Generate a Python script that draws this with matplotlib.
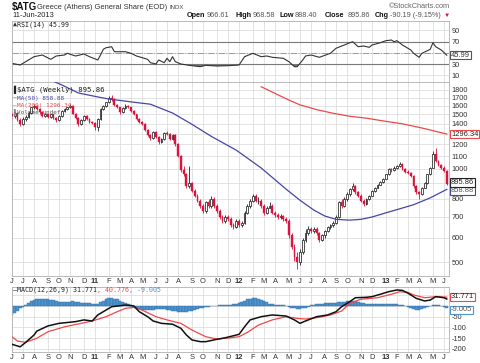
import numpy as np
import pandas as pd
import matplotlib
matplotlib.use('Agg')
import matplotlib.pyplot as plt
import matplotlib.dates as mdates
from matplotlib.ticker import FixedLocator, FixedFormatter, NullLocator

# ---------------- data (weekly, starting week of 7-Jun-2010) ----------------
opens = [1500,1480,1520,1440,1400,1450,1470,1520,1580,1600,1560,1530,1480,1500,1470,1500,1460,1440,1480,1540,
         1560,1580,1600,1510,1460,1400,1440,1480,1450,1420,1410,1370,1450,1560,1600,1640,1700,1680,1610,1580,
         1530,1570,1600,1580,1540,1500,1450,1420,1400,1340,1290,1260,1320,1270,1220,1250,1310,1300,1250,1290,
         1200,1100,990,960,880,900,850,820,790,760,730,780,760,800,760,730,700,680,700,690,
         660,650,680,660,670,720,760,790,820,790,790,760,720,750,760,720,710,700,705,690,
         680,610,560,520,500,540,590,620,640,630,640,620,590,610,630,650,660,670,700,780,
         760,800,830,860,880,840,820,790,770,800,820,850,870,890,910,930,960,1000,990,1010,
         1020,1040,1000,980,970,950,880,840,830,870,900,960,1010,1120,1060,1030,1010,986.05]
highs = [1530,1540,1530,1460,1470,1490,1540,1590,1620,1610,1570,1540,1520,1510,1510,1510,1470,1490,1550,1570,
         1590,1620,1610,1520,1470,1450,1490,1490,1460,1430,1420,1460,1570,1610,1650,1720,1730,1690,1620,1590,
         1580,1620,1610,1590,1550,1510,1460,1430,1410,1350,1300,1330,1330,1280,1260,1320,1330,1310,1300,1300,
         1210,1110,1020,970,1020,910,860,830,800,770,790,800,820,810,770,740,710,710,710,700,
         670,690,690,680,730,770,800,830,830,810,800,770,760,780,770,730,720,715,710,700,
         690,620,570,540,550,600,640,655,650,650,650,625,615,635,655,665,680,710,790,800,
         810,840,870,900,890,850,830,800,805,825,855,875,895,915,935,965,1010,1010,1020,1030,
         1050,1045,1010,990,980,955,890,850,875,905,965,1015,1140,1165,1070,1040,1020,990]
lows = [1450,1460,1430,1380,1390,1430,1460,1510,1560,1550,1510,1470,1470,1460,1460,1450,1420,1430,1470,1530,
        1550,1570,1500,1450,1380,1390,1430,1440,1410,1400,1340,1330,1440,1550,1580,1630,1660,1600,1570,1510,
        1520,1560,1570,1530,1490,1440,1410,1390,1330,1280,1240,1250,1260,1200,1210,1240,1290,1240,1240,1190,
        1090,980,950,870,870,840,810,780,750,720,720,750,750,750,720,690,670,670,680,650,
        640,645,650,650,665,715,750,780,780,770,750,710,715,745,715,700,690,690,680,670,
        600,550,505,476,490,530,580,610,620,620,610,580,585,600,625,640,650,665,695,750,
        755,790,820,850,830,810,780,760,765,795,815,845,865,885,900,925,955,980,985,1000,
        1015,990,970,960,940,870,830,800,825,865,895,955,1005,1050,1020,1000,975,888.40]
closes = [1480,1520,1440,1400,1450,1470,1520,1580,1600,1560,1530,1480,1500,1470,1500,1460,1440,1480,1540,1560,
          1580,1600,1510,1460,1400,1440,1480,1450,1420,1410,1370,1450,1560,1600,1640,1700,1680,1610,1580,1530,
          1570,1600,1580,1540,1500,1450,1420,1400,1340,1290,1260,1320,1270,1220,1250,1310,1300,1250,1290,1200,
          1100,990,960,880,900,850,820,790,760,730,780,760,800,760,730,700,680,700,690,660,
          650,680,660,670,720,760,790,820,790,790,760,720,750,760,720,710,700,705,690,680,
          610,560,520,500,540,590,620,640,630,640,620,590,610,630,650,660,670,700,780,760,
          800,830,860,880,840,820,790,770,800,820,850,870,890,910,930,960,1000,990,1010,1020,
          1040,1000,980,970,950,880,840,830,870,900,960,1010,1120,1060,1030,1010,986.05,895.86]

ma50_weeks = [8, 12, 15, 18, 24, 31, 35, 44, 50, 58, 65, 72, 81, 90, 99, 104, 109, 113, 117, 122, 126, 130,
              135, 140, 145, 151, 157]
ma50_vals = [2050, 1980, 1920, 1869, 1760, 1709, 1683, 1643, 1619, 1516, 1394, 1274, 1150, 1007, 860, 792, 736,
             704, 687, 683, 687, 699, 721, 743, 766, 806, 858.88]
ma200_weeks = [90, 93, 97, 100, 104, 110, 116, 122, 128, 135, 141, 149, 157]
ma200_vals = [1844, 1790, 1720, 1670, 1611, 1555, 1513, 1480, 1459, 1425, 1399, 1350, 1296.34]

rsi_weeks = [0, 3, 8, 11, 14, 16, 19, 20, 23, 26, 28, 31, 32, 33, 34, 36, 37, 41, 43, 45, 49, 50, 52, 53, 55, 56,
             57, 58, 59, 61, 64, 68, 70, 74, 78, 82, 84, 87, 90, 92, 94, 98, 100, 102, 103, 105, 106, 108, 111,
             115, 117, 120, 122, 123, 125, 127, 129, 130, 133, 135, 137, 138, 139, 141, 144, 145, 147, 148, 150,
             151, 152, 153, 155, 157]
rsi_vals = [31.6, 28.6, 43.4, 46.4, 38.7, 44.6, 46.4, 49.4, 44.6, 48.2, 43.4, 37.5, 46.4, 56.5, 59.3, 61.1, 52.2,
            52.2, 49.4, 44.6, 38.7, 32.7, 30.4, 37.5, 32.7, 40.5, 34.5, 43.4, 34.5, 30.4, 28, 25.6, 28, 26.8,
            27.4, 28.6, 43.4, 49.4, 43.4, 44.6, 42.3, 40.5, 34.5, 25.6, 25.6, 37.5, 44.6, 46.4, 42.3, 49.4, 58.3,
            64.1, 68.2, 70, 61.1, 62.4, 60, 64.1, 68.2, 71.8, 73, 70, 71.8, 64.1, 55.3, 49.4, 42.3, 49.4, 54,
            56.5, 68.2, 61.1, 55.3, 45.99]

macd_weeks = [0,3,5,8,9,13,17,23,26,29,31,34,36,41,44,46,49,51,54,58,61,63,65,68,70,74,77,82,84,86,90,94,99,102,
              104,106,110,114,117,119,122,124,128,130,133,136,139,141,143,146,149,151,153,156,157]
macd_vals = [-178,-190,-169,-135,-117,-93,-81,-73,-65,-70,-42,-19,-4,4,0,-27,-50,-70,-81,-85,-104,-135,-158,-166,
             -166,-155,-148,-132,-97,-65,-50,-42,-47,-65,-81,-70,-50,-42,-27,-4,20,38,40,43,54,66,74,72,59,35,23,
             27,43,38,31.771]
signal_weeks = [0,2,5,9,13,19,25,29,34,38,41,44,47,52,56,61,65,70,74,79,82,85,89,94,99,103,106,111,115,119,122,
                126,132,137,140,143,145,149,153,157]
signal_vals = [-143,-163,-169,-150,-120,-97,-81,-70,-50,-27,-11,-7,-19,-50,-65,-81,-112,-143,-154,-148,-143,-123,
               -89,-65,-50,-58,-61,-53,-42,-24,12,31,38,54,66,63,51,38,43,40.776]
hist_vals = [-40,-32,-22,-12,-4,
             5,14,22,28,32,33,33,32,30,28,26,
             22,20,20,19,18,20,22,20,17,15,14,13,12,10,
             8,10,
             16,24,30,35,37,34,30,25,20,15,
             10,4,
             -5,-10,-15,-18,-20,-21,-20,-18,-16,-15,-15,-16,-18,-20,-22,-24,-26,-28,-28,-27,-25,-22,-18,-14,-10,-8,-5,-3,-2,-1,
             0,2,3,4,5,6,8,10,12,
             18,24,30,34,37,36,33,28,22,16,10,
             7,5,4,3,2,1,
             -4,-8,-12,-15,-15,-12,-8,
             -3,2,5,8,10,11,12,12,13,14,15,16,
             18,20,23,24,23,21,18,15,
             12,10,9,8,8,9,9,10,9,9,8,8,7,5,3,
             -2,-6,-10,-14,-17,-18,-16,-12,-7,-2,
             3,6,4,
             -2,-6,-9.005]

price_ticks = [500, 600, 700, 800, 900, 1000, 1100, 1200, 1300, 1400, 1500, 1600, 1700, 1800]
price_labels = ['500', '600', '700', '800', '', '1000', '1100', '1200', '', '1400', '1500', '1600', '1700', '1800']
rsi_ticks = [10, 30, 50, 70, 90]
rsi_labels = ['10', '30', '', '70', '90']
macd_ticks = [-200, -150, -100, -50, 0, 50]
macd_labels = ['-200', '-150', '-100', '-50', '', '']

# ---------------- figure ----------------
W, H = 480, 363
plt.rcParams['font.family'] = ['Liberation Sans', 'DejaVu Sans']
fig = plt.figure(figsize=(W / 100, H / 100), dpi=100)
fig.patch.set_facecolor('white')


def rect(x0, y0, x1, y1):
    return [x0 / W, 1 - y1 / H, (x1 - x0) / W, (y1 - y0) / H]


X0, X1 = 11.5, 449
ax_r = fig.add_axes(rect(X0, 21, X1, 82))
ax_p = fig.add_axes(rect(X0, 82, X1, 276))
ax_m = fig.add_axes(rect(X0, 287, X1, 352))

dates = pd.date_range('2010-06-07', periods=len(closes), freq='7D')
xd = mdates.date2num(dates)
xlim = (mdates.date2num(pd.Timestamp('2010-06-06')), mdates.date2num(pd.Timestamp('2013-06-15 14:00')))

# month ticks: first weekly bar of each month
tick_pos, tick_lab, tick_bold = [], [], []
prev = None
for d, x in zip(dates, xd):
    key = (d.year, d.month)
    if key != prev:
        tick_pos.append(x)
        if d.month == 1:
            tick_lab.append('%02d' % (d.year % 100))
            tick_bold.append(True)
        else:
            tick_lab.append('JFMAMJJASOND'[d.month - 1])
            tick_bold.append(False)
        prev = key

GRID = '#dedede'
for ax in (ax_r, ax_p, ax_m):
    ax.set_xlim(*xlim)
    ax.set_facecolor('white')
    ax.xaxis.set_major_locator(FixedLocator(tick_pos))
    ax.xaxis.set_minor_locator(NullLocator())
    ax.grid(True, which='major', color=GRID, lw=0.6)
    ax.set_axisbelow(True)
    ax.yaxis.tick_right()
    ax.tick_params(axis='both', length=0, labelsize=5.3, colors='#333333', pad=2)
    for s in ax.spines.values():
        s.set_color('#b0b0b0')
        s.set_linewidth(0.6)

for ax in (ax_p, ax_m):
    ax.xaxis.set_major_formatter(FixedFormatter(tick_lab))
    ax.tick_params(axis='x', pad=1.5, labelsize=5.4)
    for t, b in zip(ax.get_xticklabels(), tick_bold):
        if b:
            t.set_fontweight('bold')
ax_r.xaxis.set_major_formatter(FixedFormatter([''] * len(tick_pos)))

# ---------------- RSI ----------------
rw = xd[np.array(rsi_weeks)]
rv = np.array(rsi_vals, dtype=float)
ax_r.set_ylim(-1.6, 106.8)
ax_r.yaxis.set_major_locator(FixedLocator(rsi_ticks))
ax_r.yaxis.set_major_formatter(FixedFormatter(rsi_labels))
ax_r.axhline(70, color='#7a7a7a', lw=0.8)
ax_r.axhline(30, color='#7a7a7a', lw=0.8)
ax_r.axhline(50, color='#9a9a9a', lw=0.7, ls='-.')
ax_r.fill_between(rw, rv, 30, where=rv < 30, interpolate=True, color='#a5625f', lw=0)
ax_r.plot(rw, rv, color='#333333', lw=0.8)


def tag(ax, text, val, ec, tc='#222222', weight='normal', dy=0):
    ax.annotate(text, xy=(1, val), xycoords=('axes fraction', 'data'), xytext=(1.5, dy),
                textcoords='offset points', va='center', ha='left', fontsize=5.4, color=tc,
                fontweight=weight, annotation_clip=False,
                bbox=dict(boxstyle='square,pad=0.1', fc='white', ec=ec, lw=0.8))


tag(ax_r, '45.99', rsi_vals[-1], '#555555', tc='#333333')

# ---------------- price ----------------
o = np.array(opens, float); c = np.array(closes, float)
hi = np.array(highs, float); lo = np.array(lows, float)
up = c >= o
ax_p.set_yscale('log')
ax_p.set_ylim(450.6, 1910)
ax_p.yaxis.set_major_locator(FixedLocator(price_ticks))
ax_p.yaxis.set_major_formatter(FixedFormatter(price_labels))
ax_p.yaxis.set_minor_locator(NullLocator())
ax_p.vlines(xd[up], lo[up], hi[up], color='#222222', lw=0.6, zorder=2)
ax_p.vlines(xd[~up], lo[~up], hi[~up], color='#d8123c', lw=0.6, zorder=2)
ax_p.bar(xd[up], (c - o)[up], bottom=o[up], width=4.6, facecolor='white', edgecolor='#222222', lw=0.55, zorder=3)
ax_p.bar(xd[~up], (o - c)[~up], bottom=c[~up], width=4.6, facecolor='#e0123e', edgecolor='#d8123c', lw=0.3, zorder=3)
ax_p.plot(xd[np.array(ma50_weeks)], ma50_vals, color='#4646a8', lw=0.9, zorder=4)
ax_p.plot(xd[np.array(ma200_weeks)], ma200_vals, color='#f04848', lw=0.9, zorder=4)

tag(ax_p, '1296.34', ma200_vals[-1], '#f04848')
tag(ax_p, '858.88', ma50_vals[-1], '#4646a8', tc='#555555', dy=-1)
tag(ax_p, '895.86', closes[-1], '#222222', dy=1)

# ---------------- MACD ----------------
ax_m.set_ylim(-214, 87.8)
ax_m.yaxis.set_major_locator(FixedLocator(macd_ticks))
ax_m.yaxis.set_major_formatter(FixedFormatter(macd_labels))
ax_m.bar(xd, hist_vals, width=7, color='#4f93cf', edgecolor='#2d6fa6', lw=0.3, zorder=2)
ax_m.plot(xd[np.array(signal_weeks)], signal_vals, color='#f04848', lw=0.9, zorder=3)
ax_m.plot(xd[np.array(macd_weeks)], macd_vals, color='#111111', lw=1.1, zorder=4)
tag(ax_m, '31.771', macd_vals[-1], '#f04848', dy=1.5)
tag(ax_m, '-9.005', hist_vals[-1], '#4f93cf', tc='#555555', dy=-1.5)

# ---------------- texts ----------------
def ft(x, y, s, **kw):
    kw.setdefault('va', 'center')
    return fig.text(x / W, 1 - y / H, s, **kw)

ft(12, 7, '$ATG', fontsize=7, fontweight='bold', color='#111111')
ft(37, 7.5, 'Greece (Athens) General Share (EOD)', fontsize=5.4, color='#333333')
ft(170, 7.5, 'INDX', fontsize=4.3, color='#444444')
ft(450, 6.5, '\u00a9StockCharts.com', fontsize=5.3, color='#666666', ha='right')
ft(12, 15.5, '11-Jun-2013', fontsize=5.4, color='#222222')
hdr = [(187, 'Open', True), (207, '966.61', False), (235, 'High', True), (253, '968.58', False),
       (280, 'Low', True), (295, '888.40', False), (325, 'Close', True), (348, '895.86', False),
       (375, 'Chg', True), (390.5, '-90.19 (-9.15%)', False)]
for x, s, b in hdr:
    ft(x, 15.5, s, fontsize=5.2, fontweight='bold' if b else 'normal', color='#111111' if b else '#555555')
ft(450, 15.5, '\u25bc', fontsize=4.5, color='#d8123c', ha='right')

MONO = 'DejaVu Sans Mono'
r = fig.canvas.get_renderer()


def seq(x, y, pieces, size=5.2):
    for s, col in pieces:
        t = ft(x, y, s, fontsize=size, color=col, family=MONO)
        bb = t.get_window_extent(renderer=r)
        x = bb.x1


seq(13, 25, [('\u25b2', '#333333'), ('RSI(14) 45.99', '#222222')], size=4.8)
seq(13, 90, [('\u258c', '#222222'), ('$ATG (Weekly) 895.86', '#222222')], size=5.2)
seq(13, 98.3, [('\u2014', '#4646a8'), ('MA(50) 858.88', '#4646a8')], size=4.3)
seq(13, 105.5, [('\u2014', '#f04848'), ('MA(200) 1296.34', '#f04848')], size=4.3)
seq(13, 112.5, [('\u258c', '#888888'), ('Volume undef', '#555555')], size=4.3)
seq(13, 290, [('\u2014', '#111111'), ('MACD(12,26,9) 31.771', '#222222'), (', 40.776', '#f04848'),
              (', -9.005', '#4f93cf')], size=4.8)

fig.savefig('out.png', dpi=100)
